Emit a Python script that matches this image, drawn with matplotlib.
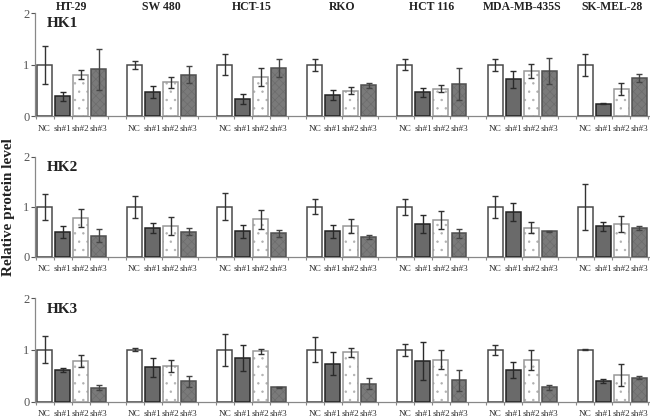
import numpy as np
import matplotlib.pyplot as plt

cell_lines = ["HT-29", "SW 480", "HCT-15", "RKO", "HCT 116", "MDA-MB-435S", "SK-MEL-28"]
conditions = ["NC", "sh#1", "sh#2", "sh#3"]
proteins = ["HK1", "HK2", "HK3"]

# mean values per cell line: NC, sh#1, sh#2, sh#3
hk1_mean = [[1.0, 0.39, 0.81, 0.91], [1.0, 0.47, 0.66, 0.81], [1.0, 0.34, 0.76, 0.94],
            [1.0, 0.41, 0.50, 0.60], [1.0, 0.47, 0.54, 0.63], [1.0, 0.72, 0.88, 0.88],
            [1.0, 0.25, 0.53, 0.74]]
hk1_err = [[0.37, 0.085, 0.09, 0.40], [0.08, 0.11, 0.11, 0.16], [0.20, 0.09, 0.18, 0.18],
           [0.12, 0.10, 0.07, 0.04], [0.11, 0.09, 0.065, 0.31], [0.12, 0.16, 0.13, 0.26],
           [0.21, 0.01, 0.12, 0.08]]
hk2_mean = [[1.0, 0.50, 0.77, 0.42], [1.0, 0.58, 0.62, 0.50], [1.0, 0.51, 0.75, 0.47],
            [1.0, 0.51, 0.62, 0.39], [1.0, 0.65, 0.74, 0.47], [1.0, 0.89, 0.58, 0.51],
            [1.0, 0.61, 0.65, 0.58]]
hk2_err = [[0.26, 0.12, 0.18, 0.13], [0.22, 0.10, 0.18, 0.07], [0.27, 0.13, 0.19, 0.07],
           [0.15, 0.13, 0.14, 0.04], [0.16, 0.18, 0.18, 0.09], [0.22, 0.18, 0.11, 0.01],
           [0.46, 0.09, 0.16, 0.04]]
hk3_mean = [[1.0, 0.61, 0.78, 0.27], [1.0, 0.66, 0.69, 0.39], [1.0, 0.85, 0.97, 0.28],
            [1.0, 0.73, 0.95, 0.35], [1.0, 0.78, 0.81, 0.41], [1.0, 0.61, 0.81, 0.28],
            [1.0, 0.40, 0.52, 0.46]]
hk3_err = [[0.26, 0.035, 0.12, 0.05], [0.03, 0.18, 0.12, 0.11], [0.31, 0.25, 0.045, 0.01],
           [0.24, 0.22, 0.09, 0.11], [0.12, 0.37, 0.18, 0.20], [0.10, 0.15, 0.19, 0.05],
           [0.01, 0.03, 0.21, 0.03]]

means = [hk1_mean, hk2_mean, hk3_mean]
errs = [hk1_err, hk2_err, hk3_err]

W, H = 650, 419
fig = plt.figure(figsize=(W / 100, H / 100), dpi=100)
plt.rcParams['font.family'] = ['Liberation Serif', 'DejaVu Serif']
plt.rcParams['hatch.linewidth'] = 0.5

# pixel extents (top, bottom) of y-range 0..2 for each row
rows_px = [(13, 116.5), (156.7, 256.7), (298, 401.7)]
left_px, right_px = 35, 650

styles = [
    dict(fc="white", hc=None, hatch=None, ec="#4a4a4a", err="#333333"),
    dict(fc="#6a6a6a", hc=None, hatch=None, ec="#222222", err="#2a2a2a"),
    dict(fc="white", hc="#b0b0b0", hatch="..", ec="#999999", err="#333333"),
    dict(fc="#7a7a7a", hc="#6c6c6c", hatch="xxxx", ec="#505050", err="#444444"),
]

n_groups = len(cell_lines)
for r in range(3):
    top, bot = rows_px[r]
    ax = fig.add_axes([left_px / W, 1 - bot / H, (right_px - left_px) / W, (bot - top) / H])
    m = np.array(means[r])
    e = np.array(errs[r])
    for j in range(4):
        x = np.arange(n_groups) * 5 + j
        st = styles[j]
        ax.bar(x, m[:, j], width=0.83, color=st["fc"], edgecolor=st["hc"] or st["fc"],
               hatch=st["hatch"], linewidth=0, zorder=2)
        ax.bar(x, m[:, j], width=0.83, fill=False, edgecolor=st["ec"], linewidth=1.1, zorder=3)
        ax.errorbar(x, m[:, j], yerr=e[:, j], fmt="none", ecolor=st["err"],
                    elinewidth=1.0, capsize=2, capthick=1.0, zorder=4)
    ax.set_xlim(-0.53, 33.6)
    ax.set_ylim(0, 2)
    ax.set_yticks([0, 1, 2])
    ax.tick_params(axis="y", colors="#555555", labelsize=9, length=3, width=0.8, pad=1)
    ax.set_xticks(np.arange(-0.5, 34, 1), minor=True)
    ax.tick_params(axis="x", which="minor", length=2.5, width=0.8, color="#888888")
    xt = np.concatenate([np.arange(n_groups) * 5 + j for j in range(4)])
    xl = [conditions[j] for j in range(4) for _ in range(n_groups)]
    ax.set_xticks(xt)
    ax.set_xticklabels(xl, fontsize=6.7, color="#333333")
    ax.tick_params(axis="x", which="major", length=0, pad=6)
    for s in ["top", "right"]:
        ax.spines[s].set_visible(False)
    for s in ["left", "bottom"]:
        ax.spines[s].set_color("#888888")
        ax.spines[s].set_linewidth(0.9)
    ax.text(0.1, 1.72, proteins[r], fontsize=11, fontweight="bold", color="#222222")
    if r == 0:
        for g, name in enumerate(cell_lines):
            ax.text(g * 5 + 1.5, 2.05, name, ha="center", va="baseline", fontsize=8.5,
                    fontweight="bold", color="#222222")

fig.text(9 / W, 1 - 207 / H, "Relative protein level", rotation=90, ha="center", va="center",
         fontsize=11, fontweight="bold", color="#222222")

fig.savefig("out.png", dpi=100)
